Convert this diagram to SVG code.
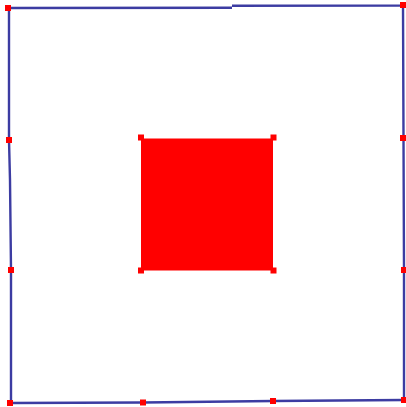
<svg xmlns="http://www.w3.org/2000/svg" width="406" height="407" viewBox="0 0 406 407">
  <defs>
    <style>
      .edge { fill: none; stroke: #3c3ca2; stroke-width: 2.4; stroke-linecap: butt; }
      .pt { fill: #ff0000; }
      .inner { fill: #ff0000; }
    </style>
    <rect id="dot" x="-3" y="-3" width="6" height="6" class="pt"/>
  </defs>
  <rect width="406" height="407" fill="#ffffff"/>
  <g id="outer">
    <polyline class="edge" points="9,8 232,7.8"/>
    <polyline class="edge" points="232,5.8 403,5.6"/>
    <polyline class="edge" points="403,5 403.5,137 404,270 404,400"/>
    <polyline class="edge" points="404,400 273,401 143,402.5 11,403"/>
    <polyline class="edge" points="11,403 11,270 10,180 9,140 9,8"/>
  </g>
  <g id="inner">
    <rect class="inner" x="141" y="138.5" width="132" height="132"/>
  </g>
  <g id="points">
    <use href="#dot" x="8" y="8"/>
    <use href="#dot" x="403" y="5"/>
    <use href="#dot" x="404" y="400"/>
    <use href="#dot" x="10" y="403"/>
    <use href="#dot" x="9" y="140"/>
    <use href="#dot" x="11" y="270"/>
    <use href="#dot" x="403" y="138"/>
    <use href="#dot" x="404" y="270"/>
    <use href="#dot" x="143" y="402.5"/>
    <use href="#dot" x="273" y="401"/>
    <use href="#dot" x="141" y="137.5"/>
    <use href="#dot" x="273.5" y="137.5"/>
    <use href="#dot" x="273.5" y="270.5"/>
    <use href="#dot" x="141" y="270.5"/>
  </g>
</svg>
